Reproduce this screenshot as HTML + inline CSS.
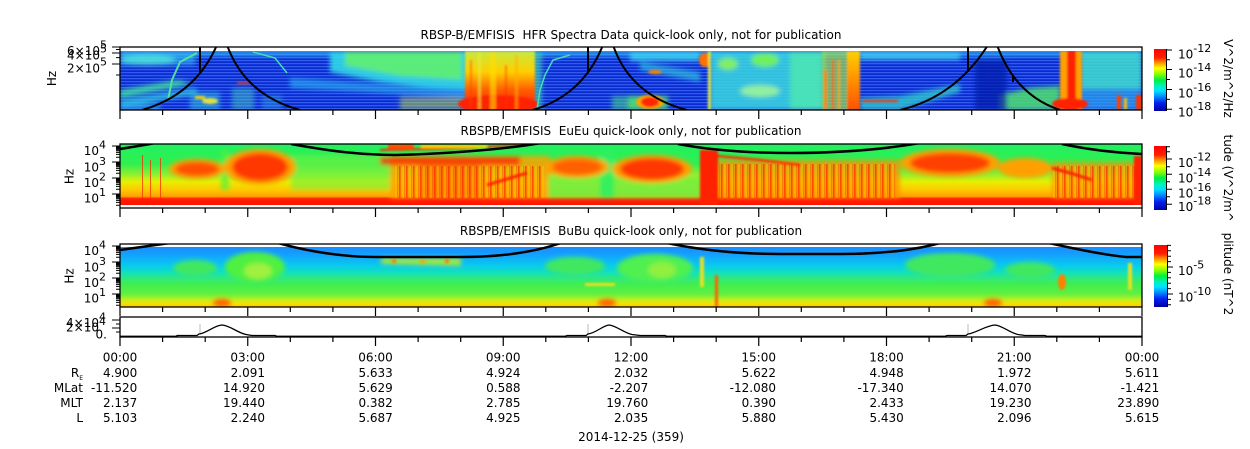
<!DOCTYPE html>
<html><head><meta charset="utf-8">
<style>
html,body{margin:0;padding:0;background:#fff;}
svg{display:block;}
text{font-family:"DejaVu Sans","Liberation Sans",sans-serif;font-size:12px;fill:#000;}
.s{font-size:11px;}
</style></head><body>
<svg width="1250" height="449" viewBox="0 0 1250 449" xmlns="http://www.w3.org/2000/svg" xmlns:xlink="http://www.w3.org/1999/xlink">
<defs>
 <clipPath id="c1"><rect x="120" y="51" width="1022" height="59"/></clipPath>
 <clipPath id="c1b"><rect x="120" y="47" width="1022" height="63"/></clipPath>
 <clipPath id="c2"><rect x="120" y="144" width="1022" height="64"/></clipPath>
 <clipPath id="c3"><rect x="120" y="244" width="1022" height="63"/></clipPath>
 <clipPath id="c4"><rect x="120" y="317" width="1022" height="20"/></clipPath>
 <clipPath id="t2"><rect x="1200" y="134" width="50" height="86"/></clipPath>
 <clipPath id="t3"><rect x="1200" y="232" width="50" height="82"/></clipPath>
 <filter id="b1" filterUnits="userSpaceOnUse" x="0" y="0" width="1250" height="449"><feGaussianBlur stdDeviation="1.1"/></filter>
 <filter id="b2" filterUnits="userSpaceOnUse" x="0" y="0" width="1250" height="449"><feGaussianBlur stdDeviation="2.5"/></filter>
 <linearGradient id="cbg" x1="0" y1="0" x2="0" y2="1">
  <stop offset="0" stop-color="#ff0000"/><stop offset=".14" stop-color="#ff2000"/>
  <stop offset=".22" stop-color="#ff9000"/><stop offset=".31" stop-color="#ffff00"/>
  <stop offset=".40" stop-color="#90ff00"/><stop offset=".50" stop-color="#00f040"/>
  <stop offset=".60" stop-color="#00f0c0"/><stop offset=".68" stop-color="#00e0ff"/>
  <stop offset=".76" stop-color="#0090ff"/><stop offset=".87" stop-color="#0020f0"/>
  <stop offset="1" stop-color="#0000a0"/>
 </linearGradient>
 <linearGradient id="rb" x1="0" y1="0" x2="0" y2="1">
  <stop offset="0" stop-color="#c8e840"/><stop offset=".35" stop-color="#ffd000"/>
  <stop offset=".65" stop-color="#ff6000"/><stop offset="1" stop-color="#ff1800"/>
 </linearGradient>
 <linearGradient id="ob" x1="0" y1="0" x2="0" y2="1">
  <stop offset="0" stop-color="#ffd000"/><stop offset="1" stop-color="#ff5000"/>
 </linearGradient>
 <linearGradient id="g2" x1="0" y1="144" x2="0" y2="205" gradientUnits="userSpaceOnUse">
  <stop offset="0" stop-color="#20f060"/><stop offset=".33" stop-color="#30f050"/>
  <stop offset=".5" stop-color="#90f030"/><stop offset=".62" stop-color="#e8f000"/>
  <stop offset=".75" stop-color="#ffc800"/><stop offset=".86" stop-color="#ffa000"/>
  <stop offset=".89" stop-color="#ff3000"/><stop offset=".92" stop-color="#ff1a00"/>
  <stop offset="1" stop-color="#ff1400"/>
 </linearGradient>
 <linearGradient id="g3" x1="0" y1="247" x2="0" y2="307" gradientUnits="userSpaceOnUse">
  <stop offset="0" stop-color="#1a8cff"/><stop offset=".12" stop-color="#14a0ff"/>
  <stop offset=".3" stop-color="#08c8f0"/><stop offset=".42" stop-color="#10e0c0"/>
  <stop offset=".52" stop-color="#30e880"/><stop offset=".62" stop-color="#40ee50"/>
  <stop offset=".78" stop-color="#60f040"/><stop offset=".88" stop-color="#c0f020"/>
  <stop offset=".94" stop-color="#f8e000"/><stop offset="1" stop-color="#ffc800"/>
 </linearGradient>
 <pattern id="hs" width="8" height="3" patternUnits="userSpaceOnUse">
  <rect x="0" y="0" width="8" height="1" fill="#4a78ff" opacity=".55"/>
  <rect x="0" y="2" width="8" height="1" fill="#0018b0" opacity=".4"/>
 </pattern>
 <pattern id="vs" width="7" height="10" patternUnits="userSpaceOnUse">
  <rect x="0" y="0" width="1.6" height="10" fill="#ff2000" opacity=".65"/>
  <rect x="3.5" y="0" width="1" height="10" fill="#ffe000" opacity=".5"/>
  <rect x="5.2" y="0" width="1" height="10" fill="#ff5000" opacity=".5"/>
 </pattern>
 <g id="xt" stroke="#000" stroke-width="1.2" fill="none">
  <path d="M120 0v9M247.75 0v9M375.5 0v9M503.25 0v9M631 0v9M758.75 0v9M886.5 0v9M1014.25 0v9M1142 0v9"/>
  <path d="M162.6 0v5M205.2 0v5M290.3 0v5M332.9 0v5M418.1 0v5M460.7 0v5M545.8 0v5M588.4 0v5M673.6 0v5M716.2 0v5M801.3 0v5M843.9 0v5M929.1 0v5M971.7 0v5M1056.8 0v5M1099.4 0v5"/>
 </g>
 <g id="yt" stroke="#000" stroke-width="1" fill="none">
  <path d="M112 146h8M112 162h8M112 178h8M112 194h8"/>
  <path d="M116 157.2h4M116 154.4h4M116 152.4h4M116 150.8h4M116 149.6h4M116 148.5h4M116 147.6h4M116 146.7h4M116 173.2h4M116 170.4h4M116 168.4h4M116 166.8h4M116 165.6h4M116 164.5h4M116 163.6h4M116 162.7h4M116 189.2h4M116 186.4h4M116 184.4h4M116 182.8h4M116 181.6h4M116 180.5h4M116 179.6h4M116 178.7h4M116 205.2h4M116 202.4h4M116 200.4h4M116 198.8h4M116 197.6h4M116 196.5h4M116 195.6h4M116 194.7h4"/>
 </g>
</defs>

<rect width="1250" height="449" fill="#fff"/>

<!-- ================= PANEL 1 ================= -->
<text x="631" y="39" text-anchor="middle" xml:space="preserve">RBSP-B/EMFISIS  HFR Spectra Data quick-look only, not for publication</text>
<g clip-path="url(#c1)">
 <rect x="120" y="51" width="1022" height="59" fill="#1238dc"/>
 <rect x="120" y="51" width="1022" height="59" fill="url(#hs)"/>
 <g filter="url(#b2)">
  <rect x="120" y="51" width="1022" height="5" fill="#30c8f8" opacity=".75"/>
  <rect x="120" y="51" width="75" height="14" fill="#38c0f0" opacity=".6"/>
  <ellipse cx="148" cy="60" rx="28" ry="5" fill="#50e8d8" opacity=".8"/>
  <polygon points="120,90 178,80 192,84 120,98" fill="#40e0a0" opacity=".85"/>
  <polygon points="120,100 196,88 198,94 120,108" fill="#30c8e0" opacity=".8"/>
  <rect x="120" y="104" width="40" height="6" fill="#30b0f0" opacity=".7"/>
  <rect x="190" y="92" width="30" height="18" fill="#30b8e0" opacity=".6"/>
  <rect x="232" y="88" width="22" height="22" fill="#40c8c0" opacity=".5"/>
  <rect x="262" y="95" width="20" height="15" fill="#30b0e0" opacity=".4"/>
  <polygon points="330,51 470,51 470,90 430,88 380,82 330,72" fill="#30d8e8" opacity=".9"/>
  <polygon points="345,51 462,51 462,80 400,76 345,66" fill="#60f070" opacity=".9"/>
  <polygon points="290,78 470,90 470,98 290,88" fill="#28a8f0" opacity=".7"/>
  <rect x="400" y="97" width="65" height="13" fill="#b0d050" opacity=".55"/>
  <rect x="520" y="51" width="22" height="59" fill="#40e0b0" opacity=".6"/>
  <rect x="612" y="96" width="28" height="14" fill="#40d090" opacity=".6"/>
  <rect x="630" y="51" width="70" height="10" fill="#40d8f0" opacity=".8"/>
  <polygon points="640,62 700,72 700,82 640,70" fill="#30c0e0" opacity=".7"/>
  <rect x="628" y="96" width="40" height="14" fill="#50e070" opacity=".8"/>
  <rect x="710" y="51" width="112" height="59" fill="#38d8e0" opacity=".85"/>
  <ellipse cx="765" cy="60" rx="14" ry="7" fill="#70f060"/>
  <ellipse cx="728" cy="64" rx="10" ry="6" fill="#80f060"/>
  <ellipse cx="760" cy="91" rx="20" ry="6" fill="#90f0a0"/>
  <rect x="790" y="51" width="35" height="59" fill="#50e8b0" opacity=".8"/>
  <rect x="860" y="51" width="100" height="9" fill="#40d0f0" opacity=".8"/>
  <polygon points="860,98 900,96 960,84 960,92 900,110 860,110" fill="#30c8d0" opacity=".8"/>
  <polygon points="1000,110 1000,95 1030,88 1060,86 1060,110" fill="#50e070" opacity=".85"/>
  <rect x="1080" y="51" width="62" height="38" fill="#40e0d0" opacity=".85"/>
  <rect x="1080" y="89" width="62" height="21" fill="#30a8f0" opacity=".7"/>
  <rect x="975" y="60" width="32" height="50" fill="#0818a8" opacity=".7"/>
 </g>
 <g filter="url(#b1)">
  <rect x="465" y="51" width="70" height="59" fill="url(#rb)"/>
  <ellipse cx="498" cy="104" rx="40" ry="9" fill="#ff2000"/>
  <rect x="470" y="60" width="2" height="50" fill="#ff4000" opacity=".6"/>
  <rect x="478" y="51" width="3" height="59" fill="#e0f040" opacity=".6"/>
  <rect x="490" y="51" width="6" height="59" fill="#ffe000" opacity=".6"/>
  <rect x="505" y="65" width="2" height="45" fill="#ff3000" opacity=".6"/>
  <rect x="515" y="55" width="3" height="55" fill="#ffb000" opacity=".6"/>
  <ellipse cx="650" cy="102" rx="14" ry="7" fill="#ffa000"/>
  <ellipse cx="650" cy="102" rx="9" ry="5" fill="#ff2800"/>
  <ellipse cx="655" cy="72" rx="7" ry="2" fill="#ff8000"/>
  <ellipse cx="705" cy="60" rx="6" ry="7" fill="#ff7000"/>
  <rect x="708" y="51" width="3" height="59" fill="#e0e040"/>
  <rect x="822" y="51" width="38" height="59" fill="#a0e050" opacity=".7"/>
  <rect x="824" y="70" width="3" height="40" fill="#ff8000"/>
  <rect x="832" y="60" width="2" height="50" fill="#ff4000"/>
  <rect x="838" y="60" width="2" height="50" fill="#ffa000"/>
  <rect x="847" y="51" width="13" height="59" fill="url(#ob)"/>
  <rect x="863" y="100" width="35" height="2" fill="#ff3000"/>
  <rect x="1060" y="51" width="22" height="59" fill="#ffa000"/>
  <rect x="1067" y="51" width="9" height="59" fill="#ff2000"/>
  <ellipse cx="1070" cy="104" rx="18" ry="6" fill="#ff2000"/>
  <rect x="1117" y="95" width="4" height="15" fill="#ff4000"/>
  <rect x="1124" y="98" width="3" height="12" fill="#ffc000"/>
  <rect x="1136" y="95" width="6" height="15" fill="#ff3000"/>
  <rect x="195" y="96" width="10" height="3" fill="#ffd000"/>
  <rect x="237" y="82" width="13" height="2" fill="#e04030"/>
  <ellipse cx="210" cy="101" rx="8" ry="3" fill="#e0e040"/>
 </g>
 <polyline points="168,100 172,80 180,62 197,53" stroke="#50e0a0" stroke-width="2" fill="none"/>
 <polyline points="253,52 275,58 287,73" stroke="#40e0b0" stroke-width="1.5" fill="none"/>
 <polyline points="537,110 540,90 545,75 553,60 570,55" stroke="#40e0b0" stroke-width="1.5" fill="none"/>
</g>
<g clip-path="url(#c1b)" stroke="#000" stroke-width="2" fill="none">
 <path d="M142,110 Q195,95 217,45"/><path d="M200,47V72"/><path d="M227,45 Q245,95 300,110"/>
 <path d="M533,110 Q583,95 603,45"/><path d="M588,47V72"/><path d="M613,45 Q630,95 687,110"/>
 <path d="M900,110 Q955,97 988,45"/><path d="M968,47V72"/><path d="M997,45 Q1015,95 1060,110"/>
 <path d="M1013,75V82"/>
</g>
<rect x="120" y="47" width="1022" height="63" fill="none" stroke="#000" stroke-width="1.3"/>
<use href="#xt" xlink:href="#xt" transform="translate(0,110)"/>
<g stroke="#000" stroke-width="1"><path d="M112 47h8M116 49.5h4M112 53h8M116 57.6h4M112 64h8M116 75h4"/></g>
<text x="107" y="55" text-anchor="end">6×10<tspan class="s" dy="-6.7">5</tspan></text>
<text x="107" y="59.3" text-anchor="end">4×10<tspan class="s" dy="-6.7">5</tspan></text>
<text x="107" y="72.3" text-anchor="end">2×10<tspan class="s" dy="-6.7">5</tspan></text>
<text transform="translate(52,78.5) rotate(-90)" text-anchor="middle" dominant-baseline="central">Hz</text>
<!-- colorbar 1 -->
<rect x="1154" y="49" width="12" height="62" fill="url(#cbg)"/>
<g stroke="#000" stroke-width="1"><path d="M1166.5 49V111M1166 50h6M1166 69.5h6M1166 89.5h6M1166 109.3h6M1166 59.7h4M1166 79.5h4M1166 99.4h4"/></g>
<text x="1178" y="58.3">10<tspan class="s" dy="-6.5">-12</tspan></text>
<text x="1178" y="77.5">10<tspan class="s" dy="-6.5">-14</tspan></text>
<text x="1178" y="97.3">10<tspan class="s" dy="-6.5">-16</tspan></text>
<text x="1178" y="116.5">10<tspan class="s" dy="-6.5">-18</tspan></text>
<text transform="translate(1228,78.5) rotate(90)" text-anchor="middle" dominant-baseline="central">V^2/m^2/Hz</text>

<!-- ================= PANEL 2 ================= -->
<text x="631" y="135" text-anchor="middle" xml:space="preserve">RBSPB/EMFISIS  EuEu quick-look only, not for publication</text>
<g clip-path="url(#c2)">
 <rect x="120" y="144" width="1022" height="61" fill="url(#g2)"/>
 <g filter="url(#b2)">
  <rect x="291" y="155" width="100" height="35" fill="#70f040" opacity=".6"/>
  <rect x="221" y="150" width="8" height="40" fill="#50f040" opacity=".7"/>
  <ellipse cx="197" cy="169" rx="28" ry="10" fill="#ffa000"/>
  <ellipse cx="197" cy="169" rx="22" ry="7" fill="#ff5000"/>
  <ellipse cx="260" cy="167" rx="36" ry="18" fill="#ffa000"/>
  <ellipse cx="260" cy="167" rx="28" ry="14" fill="#ff3800"/>
  <rect x="390" y="156" width="160" height="42" fill="#ffa000" opacity=".85"/>
  <rect x="380" y="157" width="140" height="8" fill="#ff2000" opacity=".8"/>
  <rect x="420" y="165" width="60" height="33" fill="#ff5000" opacity=".45"/>
  <!-- green/yellow under middle blobs -->
  <rect x="548" y="176" width="155" height="22" fill="#70f040" opacity=".9"/>
  <rect x="600" y="150" width="14" height="48" fill="#30f060" opacity=".9"/>
  <ellipse cx="577" cy="167" rx="32" ry="11" fill="#ffa000"/>
  <ellipse cx="577" cy="167" rx="25" ry="8" fill="#ff6000"/>
  <ellipse cx="652" cy="169" rx="40" ry="14" fill="#ffa000"/>
  <ellipse cx="652" cy="169" rx="32" ry="11" fill="#ff3800"/>
  <rect x="716" y="160" width="184" height="38" fill="#ff9000" opacity=".8"/>
  <ellipse cx="950" cy="163" rx="50" ry="14" fill="#ffa000"/>
  <ellipse cx="950" cy="163" rx="40" ry="10" fill="#ff4000"/>
  <ellipse cx="1025" cy="168" rx="27" ry="10" fill="#ffa000"/>
  <rect x="1052" y="162" width="90" height="36" fill="#ff9000" opacity=".75"/>
 </g>
 <rect x="394" y="166" width="150" height="32" fill="url(#vs)"/>
 <rect x="716" y="164" width="180" height="34" fill="url(#vs)"/>
 <rect x="1052" y="166" width="90" height="32" fill="url(#vs)"/>
 <g filter="url(#b1)">
  <rect x="700" y="150" width="18" height="55" fill="#ff2000"/>
  <rect x="1134" y="156" width="8" height="49" fill="#ff2000"/>
  <polyline points="380,150 470,148 530,144" stroke="#ff2000" stroke-width="2" fill="none"/>
  <polyline points="487,185 527,173" stroke="#ff2000" stroke-width="3" fill="none"/>
  <polyline points="718,156 760,160 800,165" stroke="#ff3000" stroke-width="2.5" fill="none"/>
  <polyline points="1052,168 1070,173 1092,180" stroke="#ff2000" stroke-width="3" fill="none"/>
  <rect x="388" y="144" width="26" height="5" fill="#ff5000"/>
  <rect x="421" y="145" width="66" height="3" fill="#ffd000"/>
 </g>
 <g fill="#ff2a00" opacity=".75">
  <rect x="142" y="155" width="1" height="43"/><rect x="150" y="160" width="1" height="38"/><rect x="160" y="158" width="1" height="40"/>
 </g>
 <rect x="120" y="205" width="1022" height="3" fill="#fff"/>
 <g stroke="#000" stroke-width="2.5" fill="none">
  <path d="M120,149 C132,147 145,145 155,143"/>
  <path d="M291,144 C330,151 360,155 395,155 C440,154 500,150 541,143"/>
  <path d="M678,144 C710,150 745,153 790,153 C840,153 880,150 920,143"/>
  <path d="M1062,144 C1090,150 1120,153 1143,154"/>
 </g>
</g>
<rect x="120" y="144" width="1022" height="64" fill="none" stroke="#000" stroke-width="1.3"/>
<use href="#xt" xlink:href="#xt" transform="translate(0,208)"/>
<use href="#yt" xlink:href="#yt"/>
<text x="106" y="155" text-anchor="end">10<tspan class="s" dy="-6.7">4</tspan></text>
<text x="106" y="171.5" text-anchor="end">10<tspan class="s" dy="-6.7">3</tspan></text>
<text x="106" y="187" text-anchor="end">10<tspan class="s" dy="-6.7">2</tspan></text>
<text x="106" y="202.7" text-anchor="end">10<tspan class="s" dy="-6.7">1</tspan></text>
<text transform="translate(69.5,176.5) rotate(-90)" text-anchor="middle" dominant-baseline="central">Hz</text>
<rect x="1154" y="146" width="12.5" height="64" fill="url(#cbg)"/>
<g stroke="#000" stroke-width="1"><path d="M1166.5 146V210M1166 159h6M1166 174.3h6M1166 189.3h6M1166 204.3h6M1166 146.7h4M1166 151.7h4M1166 166.7h4M1166 181.7h4M1166 196.7h4"/></g>
<text x="1178" y="167">10<tspan class="s" dy="-6.5">-12</tspan></text>
<text x="1178" y="182.3">10<tspan class="s" dy="-6.5">-14</tspan></text>
<text x="1178" y="197.3">10<tspan class="s" dy="-6.5">-16</tspan></text>
<text x="1178" y="211">10<tspan class="s" dy="-6.5">-18</tspan></text>
<g clip-path="url(#t2)"><text transform="translate(1228,177) rotate(90)" text-anchor="middle" dominant-baseline="central">Amplitude (V^2/m^2/Hz)</text></g>

<!-- ================= PANEL 3 ================= -->
<text x="631" y="235" text-anchor="middle" xml:space="preserve">RBSPB/EMFISIS  BuBu quick-look only, not for publication</text>
<g clip-path="url(#c3)">
 <rect x="120" y="247" width="1022" height="60" fill="url(#g3)"/>
 <g filter="url(#b2)">
  <ellipse cx="195" cy="268" rx="22" ry="8" fill="#40e860"/>
  <ellipse cx="255" cy="267" rx="30" ry="15" fill="#50f040"/>
  <ellipse cx="258" cy="271" rx="14" ry="8" fill="#a0f040"/>
  <ellipse cx="575" cy="266" rx="30" ry="9" fill="#40e860"/>
  <ellipse cx="655" cy="268" rx="38" ry="14" fill="#50f050"/>
  <ellipse cx="662" cy="270" rx="14" ry="8" fill="#90f040"/>
  <ellipse cx="950" cy="265" rx="45" ry="12" fill="#40e860"/>
  <ellipse cx="1030" cy="270" rx="25" ry="8" fill="#40e860"/>
  <polygon points="381,258 461,258 461,266 381,264" fill="#a0e840"/>
  <ellipse cx="222" cy="303" rx="9" ry="4" fill="#ff6000"/>
  <ellipse cx="607" cy="303" rx="9" ry="4" fill="#ff6000"/>
  <ellipse cx="993" cy="303" rx="9" ry="4" fill="#ff6000"/>
 </g>
 <g filter="url(#b1)">
  <rect x="392" y="259" width="4" height="4" fill="#ff8000"/>
  <rect x="420" y="260" width="5" height="3" fill="#ffa000"/>
  <rect x="445" y="259" width="4" height="4" fill="#ff8000"/>
  <rect x="585" y="283" width="30" height="3" fill="#e8e020"/>
  <rect x="700" y="257" width="4" height="30" fill="#e8e020"/>
  <rect x="715" y="275" width="3" height="32" fill="#ff6000"/>
  <ellipse cx="1062" cy="282" rx="4" ry="8" fill="#ff8000"/>
  <rect x="1128" y="263" width="4" height="27" fill="#e8e020"/>
 </g>
 <g stroke="#000" stroke-width="2.5" fill="none">
  <path d="M120,250 C135,248 155,245 170,243"/>
  <path d="M278,243 C310,252 345,257 375,257 L460,257 C500,257 535,252 561,243"/>
  <path d="M667,243 C700,250 740,254 780,254 L840,254 C880,254 915,250 940,243"/>
  <path d="M1049,243 C1080,250 1105,255 1126,257 L1143,257"/>
 </g>
</g>
<rect x="120" y="244" width="1022" height="63" fill="none" stroke="#000" stroke-width="1.3"/>
<use href="#xt" xlink:href="#xt" transform="translate(0,307)"/>
<use href="#yt" xlink:href="#yt" transform="translate(0,100)"/>
<text x="106" y="255" text-anchor="end">10<tspan class="s" dy="-6.7">4</tspan></text>
<text x="106" y="271.5" text-anchor="end">10<tspan class="s" dy="-6.7">3</tspan></text>
<text x="106" y="287" text-anchor="end">10<tspan class="s" dy="-6.7">2</tspan></text>
<text x="106" y="302.7" text-anchor="end">10<tspan class="s" dy="-6.7">1</tspan></text>
<text transform="translate(69.5,276) rotate(-90)" text-anchor="middle" dominant-baseline="central">Hz</text>
<rect x="1154" y="245" width="13" height="62" fill="url(#cbg)"/>
<g stroke="#000" stroke-width="1"><path d="M1167.5 245V307M1167 267h6M1167 294h6M1167 245.4h4M1167 250.8h4M1167 256.2h4M1167 261.6h4M1167 272.4h4M1167 277.8h4M1167 283.2h4M1167 288.6h4M1167 299.4h4M1167 304.8h4"/></g>
<text x="1178" y="275">10<tspan class="s" dy="-6.5">-5</tspan></text>
<text x="1178" y="301.7">10<tspan class="s" dy="-6.5">-10</tspan></text>
<g clip-path="url(#t3)"><text transform="translate(1228,276) rotate(90)" text-anchor="middle" dominant-baseline="central">Amplitude (nT^2/Hz)</text></g>

<!-- ================= LINE PANEL ================= -->
<g clip-path="url(#c4)">
 <g stroke="#bbb" stroke-width="1"><path d="M200 324V334M588 324V334M968 324V334"/></g>
 <path d="M120,336.3 L177,336.3 L177,335.5 L197,335.5 L199,334 C207,333 214,325.5 222,325 C230,325.5 238,333 246,334.5 L252,335.5 L275,335.5 L277,336.3 L565,336.3 L567,335.5 L586,335.5 L588,334 C596,333 603,325.5 609,325 C616,325.5 624,333 632,334.5 L640,335.5 L665,335.5 L667,336.3 L945,336.3 L947,335.5 L966,335.5 L968,334 C976,333 986,325.5 995,325 C1002,325.5 1010,333 1018,334.5 L1025,335.5 L1045,335.5 L1047,336.3 L1142,336.3" stroke="#000" stroke-width="1.3" fill="none"/>
</g>
<rect x="120" y="317" width="1022" height="20" fill="none" stroke="#000" stroke-width="1.3"/>
<use href="#xt" xlink:href="#xt" transform="translate(0,337)"/>
<g stroke="#000" stroke-width="1"><path d="M112 320h8M116 324h4M112 328h8M116 332h4"/></g>
<text x="106" y="327" text-anchor="end">4×10<tspan class="s" dy="-6.7">4</tspan></text>
<text x="106" y="331.5" text-anchor="end">2×10<tspan class="s" dy="-6.7">4</tspan></text>
<text x="107" y="338.5" text-anchor="end">0.</text>

<!-- ================= TABLE ================= -->
<g text-anchor="end">
 <text x="83" y="377">R<tspan font-size="6" dy="3">E</tspan></text>
 <text x="83" y="392">MLat</text>
 <text x="83" y="407">MLT</text>
 <text x="83" y="422">L</text>

 <text x="137.3" y="361.5">00:00</text><text x="137.3" y="377">4.900</text><text x="137.3" y="392">-11.520</text><text x="137.3" y="407">2.137</text><text x="137.3" y="422">5.103</text>
 <text x="265" y="361.5">03:00</text><text x="265" y="377">2.091</text><text x="265" y="392">14.920</text><text x="265" y="407">19.440</text><text x="265" y="422">2.240</text>
 <text x="392.8" y="361.5">06:00</text><text x="392.8" y="377">5.633</text><text x="392.8" y="392">5.629</text><text x="392.8" y="407">0.382</text><text x="392.8" y="422">5.687</text>
 <text x="520.5" y="361.5">09:00</text><text x="520.5" y="377">4.924</text><text x="520.5" y="392">0.588</text><text x="520.5" y="407">2.785</text><text x="520.5" y="422">4.925</text>
 <text x="648.3" y="361.5">12:00</text><text x="648.3" y="377">2.032</text><text x="648.3" y="392">-2.207</text><text x="648.3" y="407">19.760</text><text x="648.3" y="422">2.035</text>
 <text x="776" y="361.5">15:00</text><text x="776" y="377">5.622</text><text x="776" y="392">-12.080</text><text x="776" y="407">0.390</text><text x="776" y="422">5.880</text>
 <text x="903.8" y="361.5">18:00</text><text x="903.8" y="377">4.948</text><text x="903.8" y="392">-17.340</text><text x="903.8" y="407">2.433</text><text x="903.8" y="422">5.430</text>
 <text x="1031.5" y="361.5">21:00</text><text x="1031.5" y="377">1.972</text><text x="1031.5" y="392">14.070</text><text x="1031.5" y="407">19.230</text><text x="1031.5" y="422">2.096</text>
 <text x="1159.3" y="361.5">00:00</text><text x="1159.3" y="377">5.611</text><text x="1159.3" y="392">-1.421</text><text x="1159.3" y="407">23.890</text><text x="1159.3" y="422">5.615</text>
</g>
<text x="631" y="441" text-anchor="middle">2014-12-25 (359)</text>
</svg>
</body></html>
